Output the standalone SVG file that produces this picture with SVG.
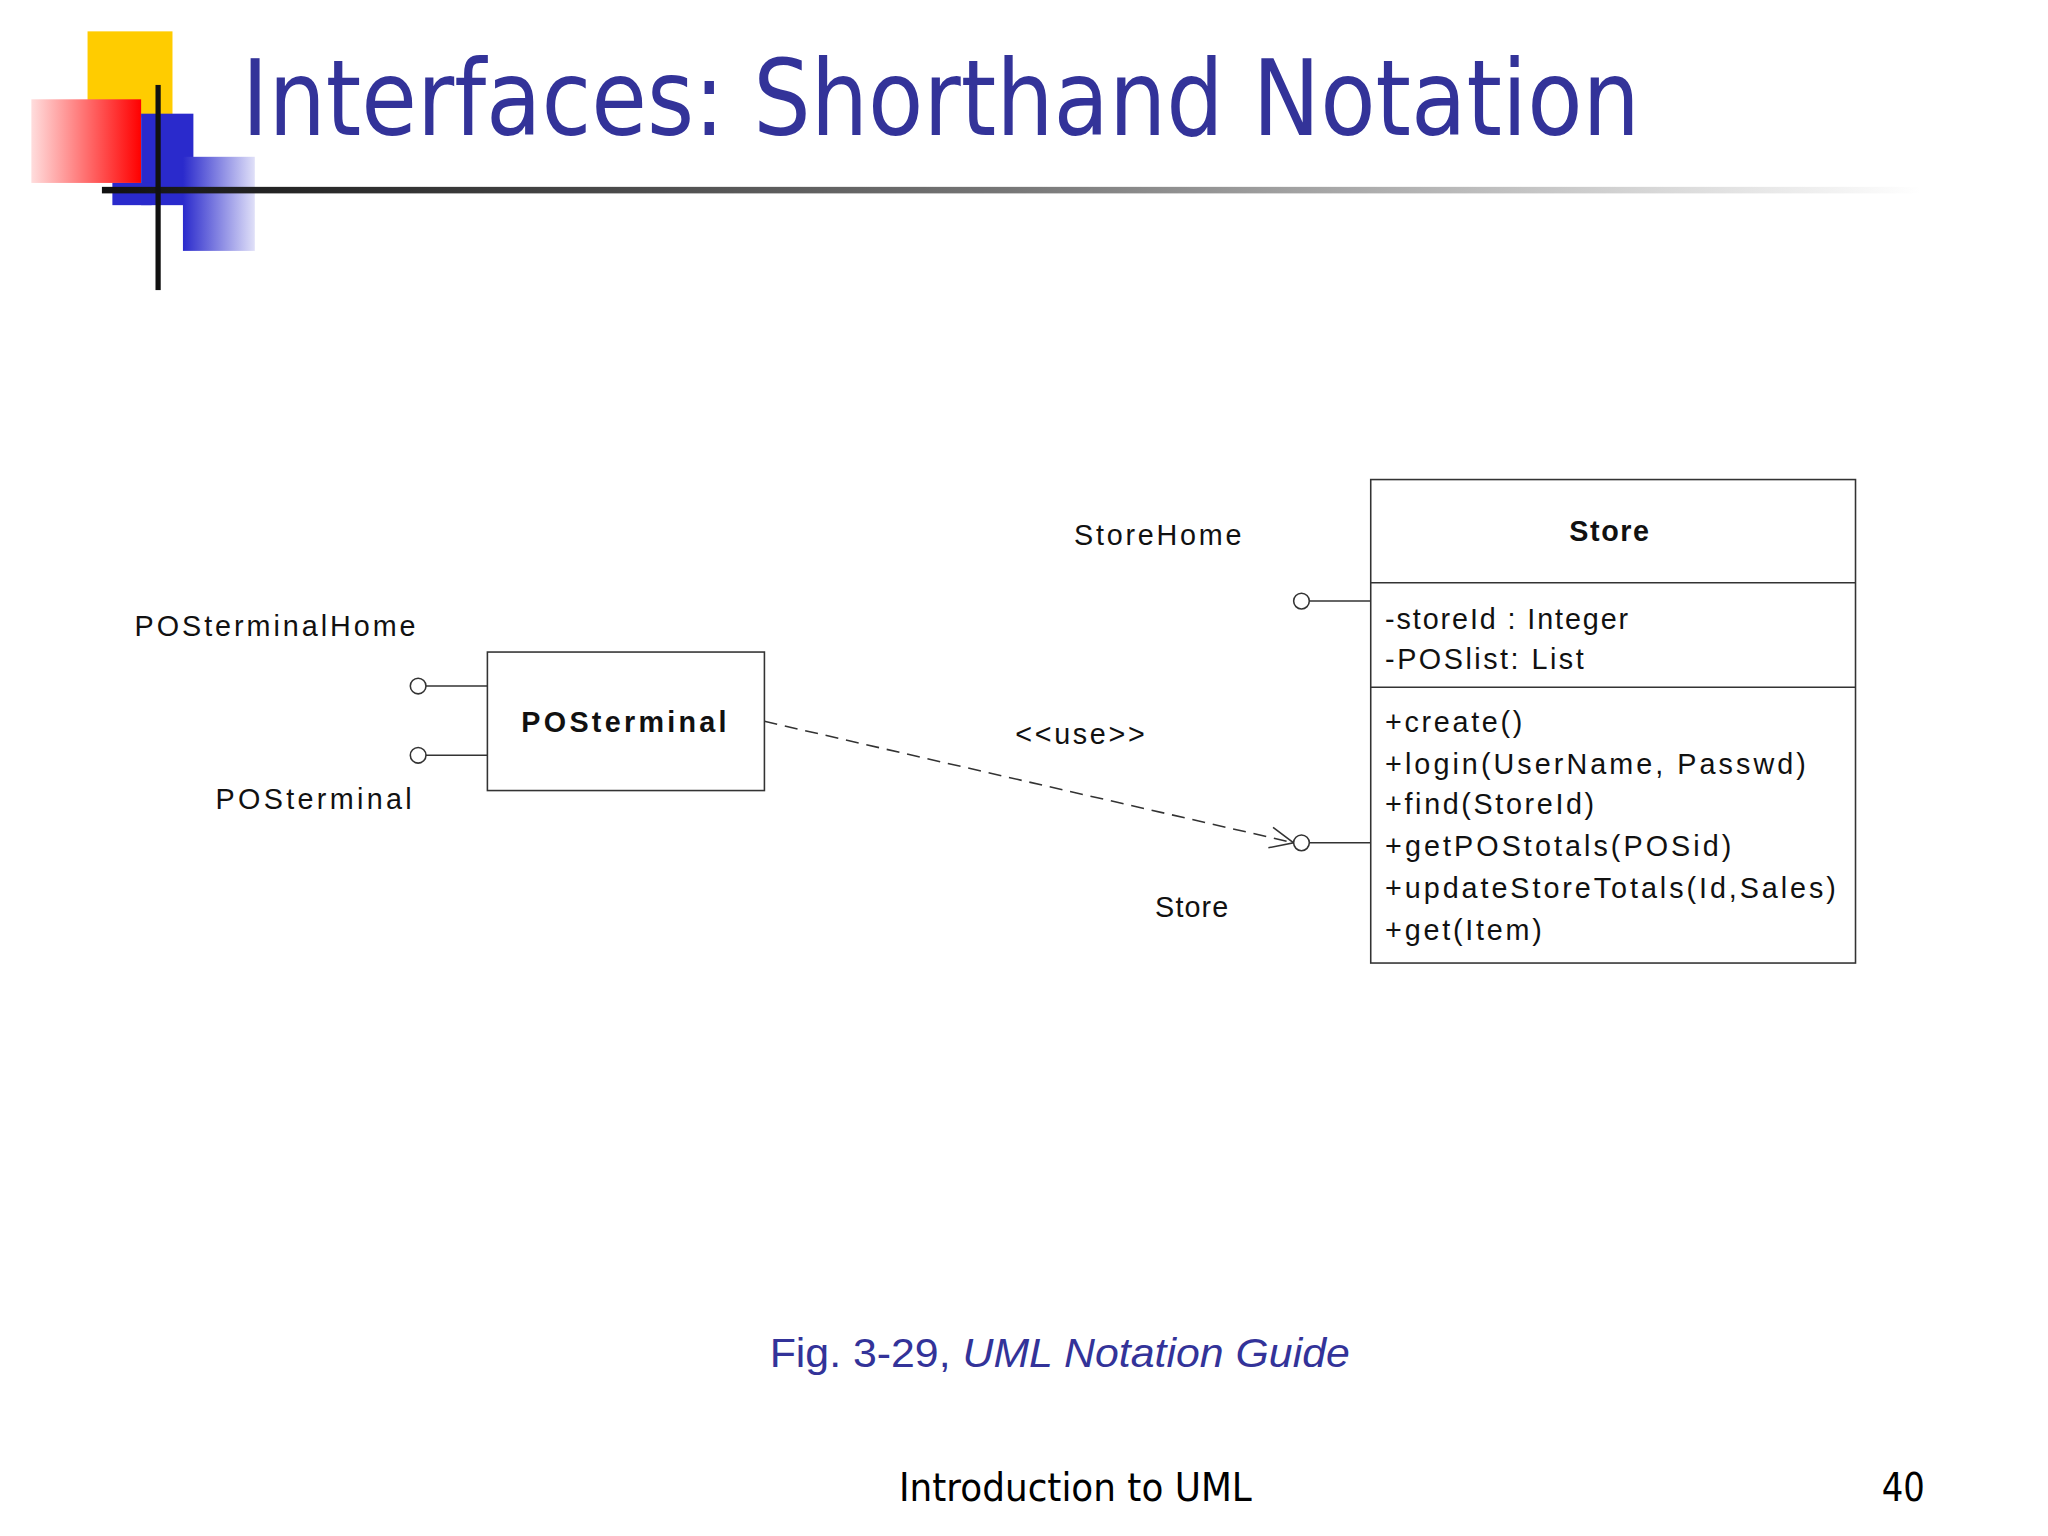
<svg xmlns="http://www.w3.org/2000/svg" width="2048" height="1536" viewBox="0 0 2048 1536">
<defs>
<linearGradient id="rule" x1="0" x2="1"><stop offset="0" stop-color="#111"/><stop offset="0.5" stop-color="#777"/><stop offset="1" stop-color="#fff"/></linearGradient>
<linearGradient id="red" x1="1" x2="0"><stop offset="0" stop-color="#f00"/><stop offset="1" stop-color="#fdd"/></linearGradient>
<linearGradient id="blue" x1="0" x2="1"><stop offset="0" stop-color="#2a2acc"/><stop offset="1" stop-color="#e0e0f8"/></linearGradient>
<marker id="open" viewBox="0 0 20 20" refX="19" refY="10" markerWidth="20" markerHeight="20" markerUnits="userSpaceOnUse" orient="auto"><path d="M1,2 L19,10 L1,18" fill="none" stroke="#333" stroke-width="1.2"/></marker>
<style>
.t{font-family:"Liberation Sans",Arial,sans-serif;font-size:22px;fill:#111}
.b{font-weight:bold}
.box{fill:#fff;stroke:#333;stroke-width:1.2}
.ln{stroke:#333;stroke-width:1.2;fill:none}
.cir{fill:#fff;stroke:#333;stroke-width:1.2}
</style>
</defs>
<rect width="2048" height="1536" fill="#fff"/>
<g transform="scale(1.3067)">
<g id="decor">
<rect x="67" y="24" width="65" height="66" fill="#ffcc00"/>
<rect x="24" y="76" width="84" height="64" fill="url(#red)"/>
<rect x="108" y="87" width="40" height="70" fill="#2a2acc"/>
<rect x="140" y="120" width="55" height="72" fill="url(#blue)"/>
<rect x="86" y="140" width="30" height="17" fill="#2a2acc"/>
<rect x="78" y="143" width="1392" height="5" fill="url(#rule)"/>
<rect x="119" y="65" width="4" height="157" fill="#111"/>
</g>
<text x="185" y="103" font-family="DejaVu Sans,Liberation Sans,sans-serif" font-size="80" fill="#333399" textLength="1070" lengthAdjust="spacingAndGlyphs">Interfaces: Shorthand Notation</text>
<g id="connectors">
<line class="ln" x1="326" y1="525" x2="373" y2="525"/>
<line class="ln" x1="326" y1="578" x2="373" y2="578"/>
<line class="ln" x1="1002" y1="460" x2="1049" y2="460"/>
<line class="ln" x1="1002" y1="645" x2="1049" y2="645"/>
<line class="ln" x1="585" y1="552" x2="990" y2="645" stroke-dasharray="10,6" marker-end="url(#open)"/>
<text class="t" x="777" y="569" textLength="99" lengthAdjust="spacing">&lt;&lt;use&gt;&gt;</text>
</g>
<g id="posterminal">
<rect class="box" x="373" y="499" width="212" height="106"/>
<text class="t b" x="399" y="560" textLength="157" lengthAdjust="spacing">POSterminal</text>
</g>
<g id="iface-posterminalhome">
<circle class="cir" cx="320" cy="525" r="6"/>
<text class="t" x="103" y="487" textLength="215" lengthAdjust="spacing">POSterminalHome</text>
</g>
<g id="iface-posterminal">
<circle class="cir" cx="320" cy="578" r="6"/>
<text class="t" x="165" y="619" textLength="150" lengthAdjust="spacing">POSterminal</text>
</g>
<g id="iface-storehome">
<circle class="cir" cx="996" cy="460" r="6"/>
<text class="t" x="822" y="417" textLength="128" lengthAdjust="spacing">StoreHome</text>
</g>
<g id="iface-store">
<circle class="cir" cx="996" cy="645" r="6"/>
<text class="t" x="884" y="702" textLength="56" lengthAdjust="spacing">Store</text>
</g>
<g id="store">
<rect class="box" x="1049" y="367" width="371" height="370"/>
<line class="ln" x1="1049" y1="446" x2="1420" y2="446"/>
<line class="ln" x1="1049" y1="526" x2="1420" y2="526"/>
<text class="t b" x="1201" y="414" textLength="61" lengthAdjust="spacing">Store</text>
<text class="t" x="1060" y="481" textLength="186" lengthAdjust="spacing">-storeId : Integer</text>
<text class="t" x="1060" y="512" textLength="152" lengthAdjust="spacing">-POSlist: List</text>
<text class="t" x="1060" y="560" textLength="105" lengthAdjust="spacing">+create()</text>
<text class="t" x="1060" y="592" textLength="322" lengthAdjust="spacing">+login(UserName, Passwd)</text>
<text class="t" x="1060" y="623" textLength="160" lengthAdjust="spacing">+find(StoreId)</text>
<text class="t" x="1060" y="655" textLength="265" lengthAdjust="spacing">+getPOStotals(POSid)</text>
<text class="t" x="1060" y="687" textLength="345" lengthAdjust="spacing">+updateStoreTotals(Id,Sales)</text>
<text class="t" x="1060" y="719" textLength="120" lengthAdjust="spacing">+get(Item)</text>
</g>
<text x="589" y="1046" font-family="Liberation Sans,Arial,sans-serif" font-size="31" fill="#333399" textLength="444" lengthAdjust="spacingAndGlyphs">Fig. 3-29, <tspan font-style="italic">UML Notation Guide</tspan></text>
<text x="688" y="1149" font-family="DejaVu Sans,Liberation Sans,sans-serif" font-size="30" fill="#000" textLength="270" lengthAdjust="spacingAndGlyphs">Introduction to UML</text>
<text x="1440" y="1149" font-family="DejaVu Sans,Liberation Sans,sans-serif" font-size="30" fill="#000" textLength="33" lengthAdjust="spacingAndGlyphs">40</text>
</g>
</svg>
